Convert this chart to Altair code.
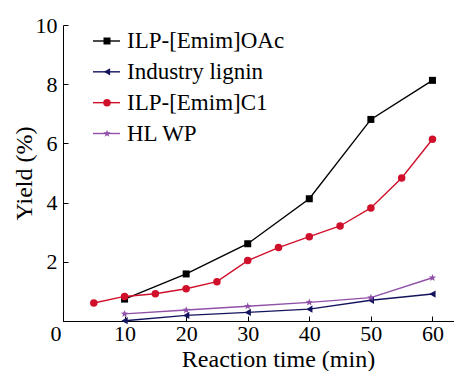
import math
import altair as alt
import pandas as pd

# ---- data ----
series_names = ["ILP-[Emim]OAc", "Industry lignin", "ILP-[Emim]C1", "HL WP"]
legend_rank = [0, 1, 2, 3]

t_oac = [10, 20, 30, 40, 50, 60]
y_oac = [0.74, 1.59, 2.61, 4.13, 6.81, 8.13]

t_lig = [10, 20, 30, 40, 50, 60]
y_lig = [0.01, 0.19, 0.29, 0.40, 0.70, 0.91]

t_c1 = [5, 10, 15, 20, 25, 30, 35, 40, 45, 50, 55, 60]
y_c1 = [0.61, 0.83, 0.92, 1.09, 1.33, 2.04, 2.48, 2.85, 3.21, 3.82, 4.83, 6.14]

t_hl = [10, 20, 30, 40, 50, 60]
y_hl = [0.24, 0.37, 0.50, 0.63, 0.79, 1.46]

x_ticks = [0, 5, 10, 15, 20, 25, 30, 35, 40, 45, 50, 55, 60]
y_ticks = [0, 1, 2, 3, 4, 5, 6, 7, 8, 9, 10]

colors = ["#000000", "#14145e", "#d0102a", "#9050a8"]


def star_path(outer=1.0, inner=0.42):
    pts = []
    for k in range(10):
        r = outer if k % 2 == 0 else inner
        a = -math.pi / 2 + k * math.pi / 5
        pts.append(f"{r*math.cos(a):.3f},{r*math.sin(a):.3f}")
    return "M" + "L".join(pts) + "Z"


shapes = ["square", "triangle-left", "circle", star_path()]

rows = []
for name, ts, ys in zip(series_names, [t_oac, t_lig, t_c1, t_hl], [y_oac, y_lig, y_c1, y_hl]):
    for t, v in zip(ts, ys):
        rows.append({"series": name, "time": t, "yield": v})
df = pd.DataFrame(rows)
leg_df = pd.DataFrame({"series": series_names, "rank": legend_rank})

FONT = "Liberation Serif"
color_scale = alt.Scale(domain=series_names, range=colors)
shape_scale = alt.Scale(domain=series_names, range=shapes)

x_enc = alt.X(
    "time:Q",
    scale=alt.Scale(domain=[0, 63.5], nice=False),
    axis=alt.Axis(
        title="Reaction time (min)",
        values=x_ticks,
        labelExpr="datum.value % 10 == 0 ? datum.label : ''",
        labelOffset={"condition": {"test": "datum.value == 0", "value": -13}, "value": 0},
        tickSize={"expr": "-5"},
        labelPadding=7,
        titleX=215,
        titleY=45,
        titleBaseline="alphabetic",
        titleAnchor="middle",
        titleAlign="center",
    ),
)
y_enc = alt.Y(
    "yield:Q",
    scale=alt.Scale(domain=[0, 10], nice=False),
    axis=alt.Axis(
        title="Yield (%)",
        values=y_ticks,
        labelExpr="datum.value % 2 == 0 && datum.value > 0 ? datum.label : ''",
        tickSize={"expr": "-5"},
        labelPadding=11,
        titleX=-32,
        titleY=148,
        titleBaseline="alphabetic",
        titleAlign="center",
    ),
)

base = alt.Chart(df)
lines = base.mark_line(strokeWidth=1.4).encode(
    x=x_enc, y=y_enc,
    color=alt.Color("series:N", scale=color_scale, legend=None),
    detail="series:N",
)
points = base.mark_point(filled=True, opacity=1).encode(
    x="time:Q", y="yield:Q",
    color=alt.Color("series:N", scale=color_scale, legend=None),
    shape=alt.Shape("series:N", scale=shape_scale, legend=None),
    size=alt.Size("series:N", scale=alt.Scale(domain=series_names, range=[49, 60, 64, 90]), legend=None),
)
main = alt.layer(lines, points)

leg_y = alt.Y("rank:Q", scale=alt.Scale(domain=[0, 3], range=[16, 108.5], nice=False, zero=False), axis=None)
lb = alt.Chart(leg_df)
leg_rule = lb.mark_rule(strokeWidth=1.4).encode(
    y=leg_y, x=alt.value(30), x2=alt.value(57),
    color=alt.Color("series:N", scale=color_scale, legend=None),
)
leg_pt = lb.mark_point(filled=True, opacity=1).encode(
    y=leg_y, x=alt.value(44),
    color=alt.Color("series:N", scale=color_scale, legend=None),
    shape=alt.Shape("series:N", scale=shape_scale, legend=None),
    size=alt.Size("series:N", scale=alt.Scale(domain=series_names, range=[30, 40, 45, 60]), legend=None),
)
leg_text = lb.mark_text(align="left", baseline="middle", font=FONT, fontSize=23, color="black").encode(
    y=leg_y, x=alt.value(64), text="series:N",
)
legend = alt.layer(leg_rule, leg_pt, leg_text)

chart = (
    alt.layer(main, legend)
    .resolve_scale(y="independent")
    .properties(
        width=391, height=296,
        autosize=alt.AutoSizeParams(type="none"),
        padding={"left": 55, "top": 17, "right": 0, "bottom": 50},
        background="white",
    )
    .configure_view(stroke=None)
    .configure_axis(
        grid=False,
        domainColor="black", tickColor="black", domainWidth=1, tickWidth=1,
        labelFont=FONT, labelFontSize=22, labelColor="black",
        titleFont=FONT, titleFontSize=24, titleColor="black", titleFontWeight="normal",
    )
)

chart.save("out.html", embed_options={"renderer": "svg", "actions": False})
